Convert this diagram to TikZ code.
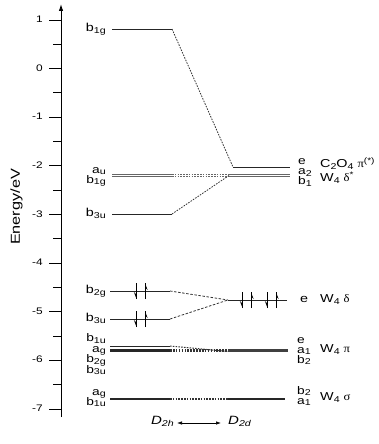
\documentclass[tikz,border=0pt]{standalone}
\usepackage{fontspec}
\setmainfont{Liberation Sans}[FakeStretch=1.25]
\newfontfamily\grk{Liberation Serif}[FakeStretch=1.1]
\usetikzlibrary{arrows.meta}
\newcommand{\dn}[1]{\raisebox{-0.3ex}{\fontsize{8.5}{8.5}\selectfont #1}}
\newcommand{\upx}[1]{\raisebox{0.75ex}{\fontsize{8}{8}\selectfont #1}}
\newcommand{\tightlines}{\lineskiplimit=-30pt\relax\lineskip=0pt\relax}
\begin{document}
\begin{tikzpicture}[x=1pt,y=-1pt,
  lab/.style={font=\fontsize{11.5}{11.5}\selectfont, inner sep=0pt},
  llab/.style={lab, anchor=mid east},
  rlab/.style={lab, anchor=mid west},
  slab/.style={inner sep=0pt, font=\fontsize{11}{10}\selectfont\tightlines},
  sl/.style={slab, align=right, anchor=base east},
  sr/.style={slab, align=left, anchor=base west},
  tlab/.style={font=\fontsize{9.5}{9.5}\selectfont, inner sep=0pt, anchor=mid east},
  lvl/.style={line width=0.9pt, black!85},
  corr/.style={line width=0.8pt, black!80, dash pattern=on 1.6pt off 1.2pt},
  band/.style={line width=1pt, black!60},
  pair/.pic={
    \draw[line width=0.7pt] (0,-8) -- (0,8);
    \fill (0,8) -- (-2.6,1) -- (0,3.5) -- cycle;
    \draw[line width=0.7pt] (8.5,8) -- (8.5,-8);
    \fill (8.5,-8) -- (11.1,-1) -- (8.5,-3.5) -- cycle;
  }]
\useasboundingbox (0,0) rectangle (378,444);

% ---- axis ----
\coordinate (axb) at (61,417);
\coordinate (axt) at (61,4);
\draw[line width=0.9pt, -{Latex[length=7pt,width=4.5pt]}] (axb) -- (axt);
\foreach \e [count=\i] in {1,0,-1,-2,-3,-4,-5,-6,-7}{
  \pgfmathsetmacro{\yy}{68.6-48.625*\e}
  \draw[line width=0.9pt] (49,\yy) -- (61,\yy);
  \node[tlab] (t\i) at (43,\yy) {\e};
}
\foreach \e in {0.5,-0.5,-1.5,-2.5,-3.5,-4.5,-5.5,-6.5}{
  \pgfmathsetmacro{\yy}{68.6-48.625*\e}
  \draw[line width=0.9pt] (53,\yy) -- (61,\yy);
}
\node[font=\fontsize{13}{13}\selectfont, rotate=90, inner sep=0pt] (elab) at (16.5,207) {Energy/eV};

% ---- C2O4 pi* / W4 delta* ----
\coordinate (b1gL) at (112,29);  \coordinate (b1gR) at (172,29);
\coordinate (eCL) at (233,167);  \coordinate (eCR) at (290,167);
\draw[lvl] (b1gL) -- (b1gR);
\draw[corr] (b1gR) -- (eCL);
\draw[lvl] (eCL) -- (eCR);

\coordinate (auL) at (112,175.5); \coordinate (auR) at (172,175.5);
\coordinate (a2L) at (229,175.5); \coordinate (a2R) at (290,175.5);
\foreach \d in {-0.9,0.9}{
  \draw[band] ([yshift=\d pt]auL) -- ([yshift=\d pt]auR);
  \draw[band, dash pattern=on 1.6pt off 1.2pt] ([yshift=\d pt]auR) -- ([yshift=\d pt]a2L);
  \draw[band] ([yshift=\d pt]a2L) -- ([yshift=\d pt]a2R);
}
\coordinate (b3uL) at (112,214); \coordinate (b3uR) at (172,214);
\draw[lvl] (b3uL) -- (b3uR);
\draw[corr] (b3uR) -- (a2L);

% ---- W4 delta ----
\coordinate (b2gL) at (110,291); \coordinate (b2gR) at (170,291);
\coordinate (b3dL) at (110,319); \coordinate (b3dR) at (170,319);
\coordinate (edL) at (228,300);  \coordinate (edR) at (287,300);
\draw[lvl] (b2gL) -- (b2gR);
\draw[lvl] (b3dL) -- (b3dR);
\draw[corr, dash pattern=on 2.5pt off 1.6pt] (b2gR) -- (edL);
\draw[corr, dash pattern=on 2.5pt off 1.6pt] (b3dR) -- (edL);
\draw[lvl] (edL) -- (edR);
\pic at (136.5,291) {pair};
\pic at (136.5,319) {pair};
\pic at (242.5,300) {pair};
\pic at (267.5,300) {pair};

% ---- W4 pi ----
\coordinate (b1uL) at (110,346); \coordinate (b1uR) at (170,346);
\coordinate (agL) at (110,350.5); \coordinate (agR) at (170,350.5);
\coordinate (piL) at (228,350.5); \coordinate (piR) at (288,350.5);
\draw[lvl, line width=1pt] (b1uL) -- (b1uR);
\draw[lvl, line width=2.3pt] (agL) -- (agR);
\draw[corr, line width=1pt] (b1uR) -- ([yshift=-1pt]piL);
\draw[corr, line width=2.3pt, dash pattern=on 1.6pt off 1.3pt] (agR) -- (piL);
\draw[lvl, line width=2.6pt, black!75] (piL) -- (piR);

% ---- W4 sigma ----
\coordinate (sgL) at (110,399); \coordinate (sgR) at (170,399);
\coordinate (sdL) at (228,399); \coordinate (sdR) at (285,399);
\draw[lvl, line width=2pt] (sgL) -- (sgR);
\draw[corr, line width=1.8pt] (sgR) -- (sdL);
\draw[lvl, line width=2pt] (sdL) -- (sdR);

% ---- left labels ----
\node[llab] (l1) at (106,29) {b\dn{1g}};
\node[sl] (l2) at (106,183) {a\dn{u}\\b\dn{1g}};
\node[llab] (l4) at (106,214) {b\dn{3u}};
\node[llab] (l5) at (106,291) {b\dn{2g}};
\node[llab] (l6) at (106,319) {b\dn{3u}};
\node[sl, font=\fontsize{11}{10.5}\selectfont\tightlines] (l7) at (106,373) {b\dn{1u}\\a\dn{g}\\b\dn{2g}\\b\dn{3u}};
\node[sl] (l11) at (106,405) {a\dn{g}\\b\dn{1u}};

% ---- right labels ----
\node[sr] (r1) at (298,184.5) {e\\a\dn{2}\\b\dn{1}};
\node[rlab] (r2) at (320,165) {C\dn{2}O\dn{4} {\grk π}\upx{(*)}};
\node[rlab] (r5) at (320,179) {W\dn{4} {\grk δ}\upx{*}};
\node[rlab] (r6) at (300,300) {e};
\node[rlab] (r7) at (320,300) {W\dn{4} {\grk δ}};
\node[sr] (r8) at (297,363) {e\\a\dn{1}\\b\dn{2}};
\node[rlab] (r11) at (320,350) {W\dn{4} {\grk π}};
\node[sr] (r12) at (297,404) {b\dn{2}\\a\dn{1}};
\node[rlab] (r14) at (320,398) {W\dn{4} {\grk σ}};

% ---- symmetry labels ----
\node[lab, anchor=mid east, font=\fontsize{12}{12}\selectfont\itshape] (d2h) at (174,422) {D\dn{2h}};
\node[lab, anchor=mid west, font=\fontsize{12}{12}\selectfont\itshape] (d2d) at (228,422) {D\dn{2d}};
\draw[line width=0.7pt, {Latex[length=5pt,width=3.5pt]}-{Latex[length=5pt,width=3.5pt]}] ([xshift=3pt,yshift=-1pt]d2h.mid east) -- ([xshift=-7pt,yshift=-1pt]d2d.mid west);
\end{tikzpicture}
\end{document}
